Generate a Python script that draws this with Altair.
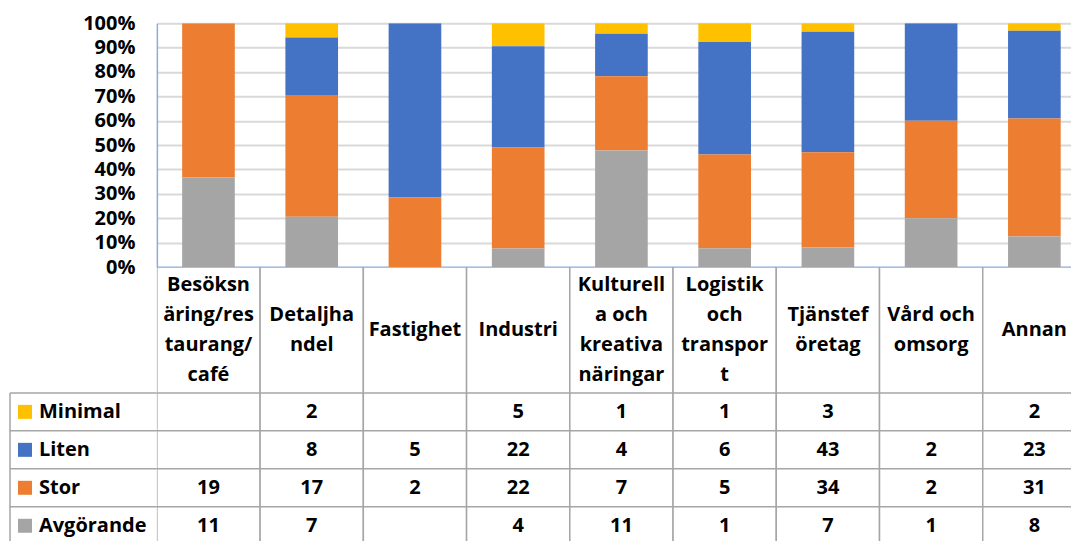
import altair as alt
import pandas as pd

categories = ["Besöksnäring/restaurang/café", "Detaljhandel", "Fastighet", "Industri",
              "Kulturella och kreativa näringar", "Logistik och transport", "Tjänsteföretag",
              "Vård och omsorg", "Annan"]
header_labels = ["Besöksn\näring/res\ntaurang/\ncafé", "Detaljha\nndel", "Fastighet", "Industri",
                 "Kulturell\na och\nkreativa\nnäringar", "Logistik\noch\ntranspor\nt",
                 "Tjänstef\nöretag", "Vård och\nomsorg", "Annan"]
series = ["Minimal", "Liten", "Stor", "Avgörande"]
colors = ["#FFC000", "#4472C4", "#ED7D31", "#A5A5A5"]
minimal = [None, 2, None, 5, 1, 1, 3, None, 2]
liten = [None, 8, 5, 22, 4, 6, 43, 2, 23]
stor = [19, 17, 2, 22, 7, 5, 34, 2, 31]
avgorande = [11, 7, None, 4, 11, 1, 7, 1, 8]

FONT = "Open Sans"
FS = 20
GRID_BORDER = "#a6a6a6"
FULL_W = 930      # full width of the category columns (the right end is cut by the window)
W = 923           # visible width
BAR_H = 244
HEADER_H = 126
LINE_H = 30
ROWS_FULL_H = 152
ROWS_H = 155

rows = []
for s_idx, (s, vals) in enumerate(zip(series, [minimal, liten, stor, avgorande])):
    for c, v in zip(categories, vals):
        rows.append({"category": c, "series": s, "count": v,
                     "label": "" if v is None else str(v),
                     "ord": len(series) - 1 - s_idx})
df = pd.DataFrame(rows)
df_bars = df[df["count"].notna()].copy()

x_scale = alt.Scale(domain=categories, paddingInner=0, paddingOuter=0, range=[0, FULL_W])

bars = alt.Chart(df_bars).mark_bar(width=alt.RelativeBandSize(0.51), clip=True).encode(
    x=alt.X("category:N", sort=categories, scale=x_scale, axis=None),
    y=alt.Y("count:Q", stack="normalize", scale=alt.Scale(domain=[0, 1]),
            axis=alt.Axis(format=".0%", values=[i / 10 for i in range(11)], title=None,
                          labelFont=FONT, labelFontSize=FS, labelFontWeight="bold",
                          labelColor="#000000", ticks=False, labelPadding=22,
                          gridColor={"condition": {"test": "datum.value === 0", "value": "#8faadc"},
                                     "value": "#d9d9d9"},
                          gridWidth=2,
                          domainColor="#8faadc", domainWidth=1.5)),
    color=alt.Color("series:N", scale=alt.Scale(domain=series, range=colors), legend=None),
    order=alt.Order("ord:Q", sort="ascending"),
).properties(width=W, height=BAR_H)

# header: one record per wrapped line, offset from the cell centre in line units
hrows = []
for c, lab in zip(categories, header_labels):
    parts = lab.split("\n")
    n = len(parts)
    for i, p in enumerate(parts):
        hrows.append({"category": c, "line": p, "off": (n - 1) / 2 - i})
header_lines = pd.DataFrame(hrows)
header_df = pd.DataFrame({"category": categories})
half = HEADER_H / 2 / LINE_H
hx = alt.X("category:N", sort=categories, scale=x_scale, axis=None)
hy_scale = alt.Scale(domain=[-half, half], nice=False, zero=False)
header_cells = alt.Chart(header_df).mark_rect(
    fill="white", stroke=GRID_BORDER, strokeWidth=1.5, clip=True).encode(
    x=hx, y=alt.Y(datum=half, scale=hy_scale, axis=None), y2=alt.Y2(datum=-half))
header_text = alt.Chart(header_lines).mark_text(
    font=FONT, fontSize=FS, fontWeight="bold", color="#000000",
    baseline="middle", align="center", clip=True).encode(
    x=hx, y=alt.Y("off:Q", scale=hy_scale, axis=None), text="line:N")
header = alt.layer(header_cells, header_text).properties(width=W, height=HEADER_H)

y_scale_rows = alt.Scale(domain=series, paddingInner=0, paddingOuter=0, range=[0, ROWS_FULL_H])
y_rows = alt.Y("series:N", sort=series, scale=y_scale_rows, axis=None)
cells = alt.Chart(df).mark_rect(fill="white", stroke=GRID_BORDER, strokeWidth=1.5, clip=True).encode(
    x=hx, y=y_rows)
vals = alt.Chart(df).mark_text(font=FONT, fontSize=FS, fontWeight="bold", color="#000000",
                               baseline="middle", align="center", clip=True).encode(
    x=hx, y=y_rows, text="label:N")

legend_df = pd.DataFrame({"series": series, "color": colors})
leg_hrules = alt.Chart(legend_df).mark_rule(stroke=GRID_BORDER, strokeWidth=1.5).encode(
    x=alt.value(-147), x2=alt.value(0),
    y=alt.Y("series:N", sort=series, scale=y_scale_rows, axis=None, bandPosition=0))
leg_vrule = alt.Chart(legend_df.head(1)).mark_rule(stroke=GRID_BORDER, strokeWidth=1.5).encode(
    x=alt.value(-147), y=alt.value(0), y2=alt.value(ROWS_H))
leg_sq = alt.Chart(legend_df).mark_square(size=196, opacity=1, filled=True).encode(
    x=alt.value(-132), y=y_rows, color=alt.Color("color:N", scale=None))
leg_txt = alt.Chart(legend_df).mark_text(font=FONT, fontSize=FS, fontWeight="bold", color="#000000",
                                         baseline="middle", align="left").encode(
    x=alt.value(-118), y=y_rows, text="series:N")

table = alt.layer(cells, vals, leg_hrules, leg_vrule, leg_sq, leg_txt).properties(width=W, height=ROWS_H)

chart = alt.vconcat(bars, header, table, spacing=0, bounds="flush").resolve_scale(
    color="independent").configure_view(stroke=None).properties(
    padding={"left": 1, "top": 5, "right": -8, "bottom": -8})

chart.save("out.html", embed_options={"renderer": "svg", "actions": False})
